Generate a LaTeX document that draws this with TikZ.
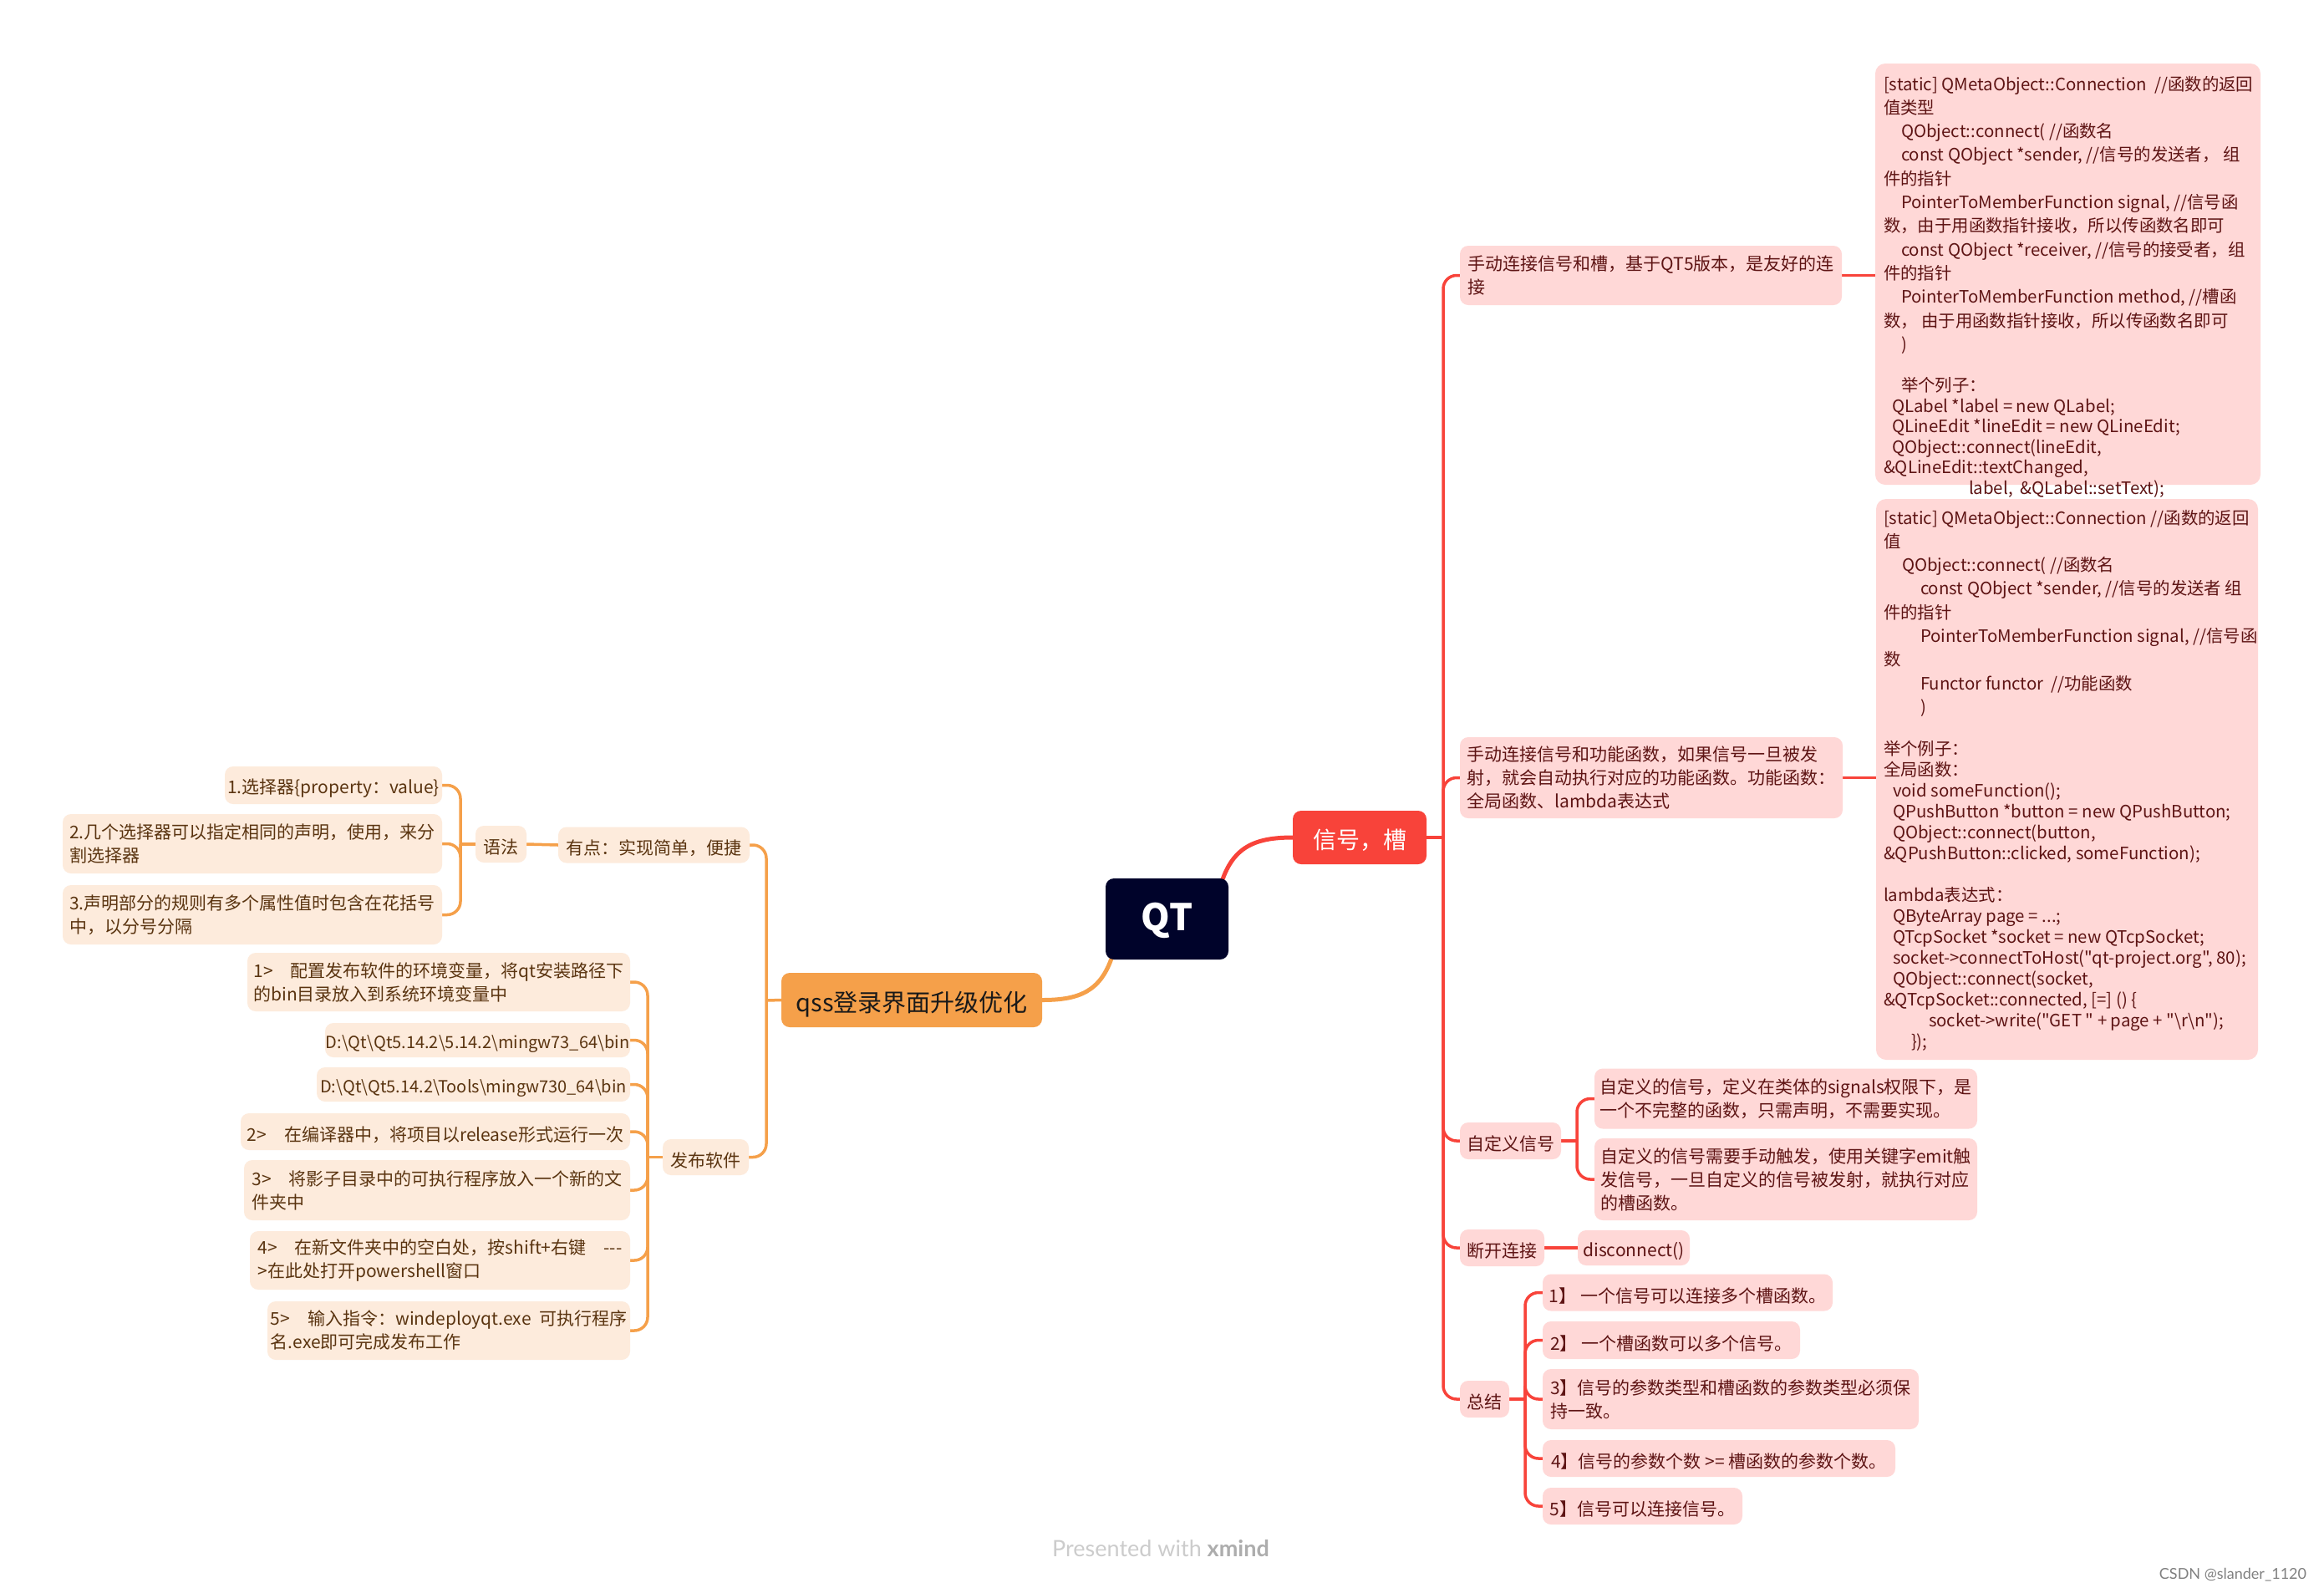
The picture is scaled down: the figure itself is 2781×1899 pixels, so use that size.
\documentclass[tikz,border=0pt]{standalone}
\usepackage{fontspec}
\newfontfamily\cjk{Noto Sans CJK SC}
\newfontfamily\wmfont{Lato}
\usetikzlibrary{calc}
\definecolor{redc}{HTML}{F8433A}
\definecolor{pinkf}{HTML}{FFD8D7}
\definecolor{redt}{HTML}{5E1414}
\definecolor{orac}{HTML}{F5A04A}
\definecolor{oraf}{HTML}{FDEBDC}
\definecolor{orat}{HTML}{5A3410}
\definecolor{navy}{HTML}{00032A}
\pgfdeclarelayer{bg}
\pgfsetlayers{bg,main}
\begin{document}
\begin{tikzpicture}[x=1pt,y=-1pt,
 every node/.style={inner sep=0pt, outer sep=0pt},
 lowtext/.style={execute at begin node={\rule{0pt}{#1}}},
 rbox/.style={fill=pinkf, text=redt, rounded corners=10pt, align=left, font=\cjk\fontsize{21}{28}\selectfont, lowtext=25pt},
 obox/.style={fill=oraf, text=orat, rounded corners=10pt, align=left, font=\cjk\fontsize{21}{28}\selectfont, lowtext=25pt},
 rline/.style={draw=redc, line width=3.5pt, rounded corners=16pt},
 oline/.style={draw=orac, line width=3.5pt, rounded corners=16pt},
 sz/.style 2 args={minimum width=#1, minimum height=#2},
 codetext/.style={anchor=north west, align=left, text=redt},
]
\begin{pgfonlayer}{bg}
\fill[white] (0,0) rectangle (2781,1899);
\end{pgfonlayer}
\useasboundingbox (0,0) rectangle (2781,1899);

% central
\node[fill=navy, rounded corners=10pt, sz={147}{97}, text=white, font=\cjk\bfseries\fontsize{44}{50}\selectfont, lowtext=38pt] (QT) at (1396.5,1099.5) {QT};
\node[fill=redc, rounded corners=10pt, sz={160}{64}, text=white, font=\cjk\fontsize{28}{32}\selectfont, lowtext=30pt] (sig) at (1627,1002) {信号，槽};
\node[fill=orac, rounded corners=10pt, sz={312}{65}, text=black!90, font=\cjk\fontsize{29}{32}\selectfont, lowtext=35pt] (qss) at (1091,1196.5) {qss登录界面升级优化};

% right branch
\node[rbox, sz={457}{71}] (r1) at (1975.5,329.5) {手动连接信号和槽，基于QT5版本，是友好的连\\接};
\node[rbox, sz={458}{97}] (r2) at (1976,930.5) {手动连接信号和功能函数，如果信号一旦被发\\射，就会自动执行对应的功能函数。功能函数：\\全局函数、lambda表达式};

\node[fill=pinkf, rounded corners=12pt, sz={461}{504}] (code1) at (2474.5,328) {};
\node[codetext, font=\cjk\fontsize{20.4}{24.6}\selectfont] (code1t) at (2254,88) {\rule{0pt}{20pt}{[}static] QMetaObject::Connection\ \ //函数的返回\\[3.7pt]%
值类型\\[3.7pt]%
\hspace*{21pt}QObject::connect( //函数名\\[3.7pt]%
\hspace*{21pt}const QObject *sender, //信号的发送者，\ 组\\[3.7pt]%
件的指针\\[3.7pt]%
\hspace*{21pt}PointerToMemberFunction signal, //信号函\\[3.7pt]%
数，由于用函数指针接收，所以传函数名即可\\[3.7pt]%
\hspace*{21pt}const QObject *receiver, //信号的接受者，组\\[3.7pt]%
件的指针\\[3.7pt]%
\hspace*{21pt}PointerToMemberFunction method, //槽函\\[3.7pt]%
数，\ 由于用函数指针接收，所以传函数名即可\\[3.7pt]%
\hspace*{21pt})\\%
\\%
\hspace*{21pt}举个列子：\\%
\hspace*{10pt}QLabel *label = new QLabel;\\%
\hspace*{10pt}QLineEdit *lineEdit = new QLineEdit;\\%
\hspace*{10pt}QObject::connect(lineEdit,\\%
\&QLineEdit::textChanged,\\%
\hspace*{102pt}label,\ \ \&QLabel::setText);};

\node[fill=pinkf, rounded corners=12pt, sz={457}{671}] (code2) at (2473.5,932.5) {};
\node[codetext, font=\cjk\fontsize{20.4}{25}\selectfont] (code2t) at (2254,607) {\rule{0pt}{20pt}{[}static] QMetaObject::Connection //函数的返回\\[3.3pt]%
值\\[3.3pt]%
\hspace*{22pt}QObject::connect( //函数名\\[3.3pt]%
\hspace*{44pt}const QObject *sender, //信号的发送者 组\\[3.3pt]%
件的指针\\[3.3pt]%
\hspace*{44pt}PointerToMemberFunction signal, //信号函\\[3.3pt]%
数\\[3.3pt]%
\hspace*{44pt}Functor functor\ \ //功能函数\\[3.3pt]%
\hspace*{44pt})\\%
\\%
举个例子：\\%
全局函数：\\%
\hspace*{11pt}void someFunction();\\%
\hspace*{11pt}QPushButton *button = new QPushButton;\\%
\hspace*{11pt}QObject::connect(button,\\%
\&QPushButton::clicked, someFunction);\\%
\\%
lambda表达式：\\%
\hspace*{11pt}QByteArray page = ...;\\%
\hspace*{11pt}QTcpSocket *socket = new QTcpSocket;\\%
\hspace*{11pt}socket->connectToHost("qt-project.org", 80);\\%
\hspace*{11pt}QObject::connect(socket,\\%
\&QTcpSocket::connected, {[}=] () \{\\%
\hspace*{54pt}socket->write("GET " + page + "\textbackslash r\textbackslash n");\\%
\hspace*{33pt}\});};

\node[rbox, sz={121}{44}] (cs) at (1807.5,1365) {自定义信号};
\node[rbox, sz={458}{72}] (csA) at (2137,1314.5) {自定义的信号，定义在类体的signals权限下，是\\一个不完整的函数，只需声明，不需要实现。};
\node[rbox, sz={458}{98}] (csB) at (2137,1411) {自定义的信号需要手动触发，使用关键字emit触\\发信号，一旦自定义的信号被发射，就执行对应\\的槽函数。};
\node[rbox, sz={101}{44}] (dc) at (1797.5,1493) {断开连接};
\node[rbox, sz={134}{42}] (dis) at (1955,1493) {disconnect()};
\node[rbox, sz={59}{44}] (zj) at (1776.5,1674) {总结};
\node[rbox, sz={347}{44}] (s1) at (2019.5,1546.5) {1】 一个信号可以连接多个槽函数。};
\node[rbox, sz={308}{45}] (s2) at (2000,1603.5) {2】 一个槽函数可以多个信号。};
\node[rbox, sz={450}{72}] (s3) at (2071,1674) {3】信号的参数类型和槽函数的参数类型必须保\\持一致。};
\node[rbox, sz={422}{44}] (s4) at (2057,1745) {4】信号的参数个数 >= 槽函数的参数个数。};
\node[rbox, sz={239}{44}] (s5) at (1965.5,1802) {5】信号可以连接信号。};

% left branch
\node[obox, sz={229}{43}] (yd) at (782.5,1011) {有点：实现简单，便捷};
\node[obox, sz={61}{44}] (yf) at (599.5,1010) {语法};
\node[obox, sz={260}{45}] (g1) at (399,939.5) {1.选择器\{property：value\}};
\node[obox, sz={454}{71}] (g2) at (302,1009.5) {2.几个选择器可以指定相同的声明，使用，来分\\割选择器};
\node[obox, sz={454}{71}] (g3) at (302,1094.5) {3.声明部分的规则有多个属性值时包含在花括号\\中，以分号分隔};
\node[obox, sz={103}{43}] (fb) at (844.5,1384.5) {发布软件};
\node[obox, sz={458}{70}] (p1) at (525,1175) {1>　配置发布软件的环境变量，将qt安装路径下\\的bin目录放入到系统环境变量中};
\node[obox, sz={365}{41}, font=\cjk\fontsize{20}{28}\selectfont] (p2) at (571.5,1244.5) {D:\textbackslash Qt\textbackslash Qt5.14.2\textbackslash 5.14.2\textbackslash mingw73\_64\textbackslash bin};
\node[obox, sz={375}{41}, font=\cjk\fontsize{20}{28}\selectfont] (p3) at (566.5,1297.5) {D:\textbackslash Qt\textbackslash Qt5.14.2\textbackslash Tools\textbackslash mingw730\_64\textbackslash bin};
\node[obox, sz={466}{44}] (p4) at (521,1354) {2>　在编译器中，将项目以release形式运行一次};
\node[obox, sz={462}{72}] (p5) at (523,1424) {3>　将影子目录中的可执行程序放入一个新的文\\件夹中};
\node[obox, sz={455}{70}] (p6) at (526.5,1508) {4>　在新文件夹中的空白处，按shift+右键　-\kern0pt-\kern0pt-\\>在此处打开powershell窗口};
\node[obox, sz={434}{70}] (p7) at (537,1592) {5>　输入指令：windeployqt.exe\ \ 可执行程序\\名.exe即可完成发布工作};

% junctions
\coordinate (rj) at (1727,1002);
\coordinate (cj) at (1887,1365);
\coordinate (zjj) at (1825,1674);
\coordinate (oj) at (917,1197);
\coordinate (yj) at (551,1010);
\coordinate (fj) at (775,1384.5);

% watermarks
\node[font=\wmfont\fontsize{27}{30}\selectfont, text=black!20] (wm) at (1389,1853) {Presented with {\color{black!32}\bfseries xmind}};
\node[font=\wmfont\fontsize{18}{20}\selectfont, text=black!50, anchor=east] (csdn) at (2760,1884) {CSDN @slander\_1120};

\begin{pgfonlayer}{bg}
\draw[redc, line width=5pt] ($(QT.north east)+(-8,4)$) .. controls +(14,-42) and +(-45,0) .. (sig.west);
\draw[orac, line width=5pt] ($(QT.south west)+(8,-4)$) .. controls +(-14,42) and +(45,0) .. (qss.east);
\draw[rline] (sig.east) -- (rj);
\foreach \n in {r1,r2,cs,dc,zj} \draw[rline] (rj) |- (\n.west);
\draw[rline] (r1.east) -- (r1.east -| code1.west);
\draw[rline] (r2.east) -- (r2.east -| code2.west);
\draw[rline] (cs.east) -- (cj);
\foreach \n in {csA,csB} \draw[rline] (cj) |- (\n.west);
\draw[rline] (dc.east) -- (dis.west);
\draw[rline] (zj.east) -- (zjj);
\foreach \n in {s1,s2,s3,s4,s5} \draw[rline] (zjj) |- (\n.west);
\draw[oline] (qss.west) -- (oj);
\foreach \n in {yd,fb} \draw[oline] (oj) |- (\n.east);
\draw[oline] (yd.west) -- (yf.east);
\draw[oline] (yf.west) -- (yj);
\foreach \n in {g1,g2,g3} \draw[oline] (yj) |- (\n.east);
\draw[oline] (fb.west) -- (fj);
\foreach \n in {p1,p2,p3,p4,p5,p6,p7} \draw[oline] (fj) |- (\n.east);
\end{pgfonlayer}
\end{tikzpicture}
\end{document}
